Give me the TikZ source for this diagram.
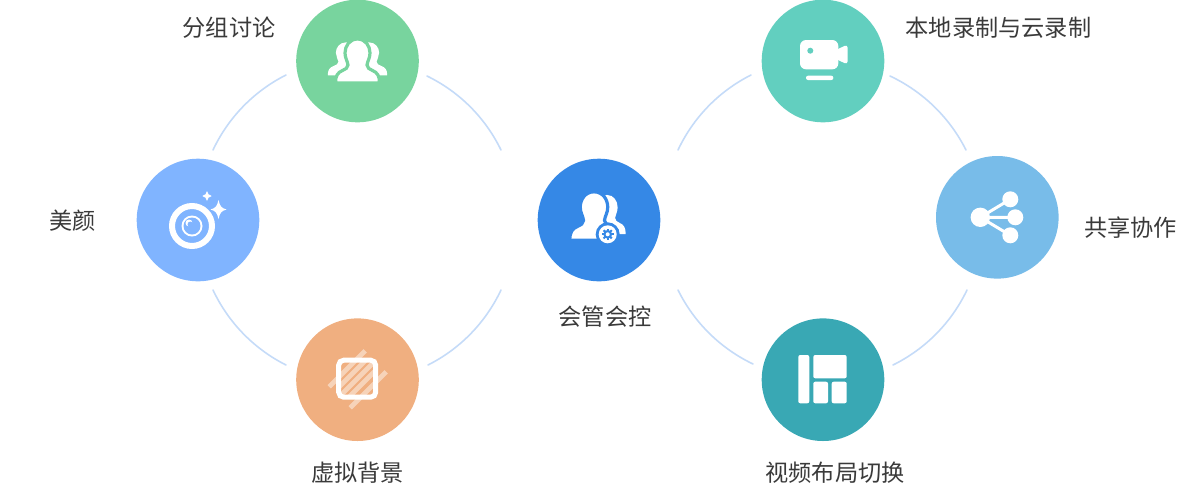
\documentclass[tikz,border=0pt]{standalone}
\usepackage{fontspec}
\setmainfont{Noto Sans CJK SC}
\definecolor{cGroup}{HTML}{78D49E}
\definecolor{cBeauty}{HTML}{80B4FF}
\definecolor{cVirtual}{HTML}{F0AF80}
\definecolor{cHost}{HTML}{3588E6}
\definecolor{cRecord}{HTML}{62CFBF}
\definecolor{cShare}{HTML}{78BCE9}
\definecolor{cLayout}{HTML}{39A8B4}
\definecolor{cRing}{HTML}{C5DBF8}
\definecolor{cText}{HTML}{3A3A3A}
\tikzset{
    hub/.style={circle,minimum size=61.3pt,inner sep=0pt,outer sep=0pt},
    caption/.style={text=cText,font=\fontsize{11.6pt}{13pt}\selectfont,inner sep=0pt},
    ring/.style={draw=cRing,line width=0.8pt,line cap=round,looseness=0.88},
    glyph/.style={fill=white,draw=none}
}
\def\Person{
    (0,-22) .. controls (8,-22) and (12.5,-15) .. (12.5,-8)
    .. controls (12.5,-3) and (10,0) .. (9.5,4)
    .. controls (9.5,7) and (12,8) .. (15,9.5)
    .. controls (20,11.5) and (22,15) .. (22,22)
    -- (-22,22)
    .. controls (-22,15) and (-20,11.5) .. (-15,9.5)
    .. controls (-12,8) and (-9.5,7) .. (-9.5,4)
    .. controls (-10,0) and (-12.5,-3) .. (-12.5,-8)
    .. controls (-12.5,-15) and (-8,-22) .. (0,-22) -- cycle
}
\begin{document}
\begin{tikzpicture}[x=0.5pt,y=-0.5pt]
    \useasboundingbox (0,0) rectangle (1200,489);

    \node[hub,fill=cGroup] (group) at (357.5,61) {};
    \node[hub,fill=cBeauty] (beauty) at (198,220) {};
    \node[hub,fill=cVirtual] (virtual) at (357.5,379.7) {};
    \node[hub,fill=cHost] (host) at (599,220) {};
    \node[hub,fill=cRecord] (record) at (823,61) {};
    \node[hub,fill=cShare] (share) at (997.3,217.3) {};
    \node[hub,fill=cLayout] (layout) at (823,379.7) {};

    \node[caption] (groupText) at (229,28) {分组讨论};
    \node[caption] (beautyText) at (72.5,221) {美颜};
    \node[caption] (virtualText) at (357.5,473) {虚拟背景};
    \node[caption] (hostText) at (605,317) {会管会控};
    \node[caption] (recordText) at (998.5,28) {本地录制与云录制};
    \node[caption] (shareText) at (1130.5,228) {共享协作};
    \node[caption] (layoutText) at (835,473) {视频布局切换};

    % ring ends
    \coordinate (a1) at (213,150);
    \coordinate (a2) at (286,75);
    \coordinate (a3) at (427,76);
    \coordinate (a4) at (501,150);
    \coordinate (a5) at (501,290);
    \coordinate (a6) at (428,365);
    \coordinate (a7) at (286,365);
    \coordinate (a8) at (213,290);
    \coordinate (b1) at (678,150);
    \coordinate (b2) at (751,75);
    \coordinate (b3) at (890,76);
    \coordinate (b4) at (966,150);
    \coordinate (b5) at (967,290);
    \coordinate (b6) at (893,365);
    \coordinate (b7) at (753,364);
    \coordinate (b8) at (678,290);

    \draw[ring] (a1) to[bend left=19] (a2);
    \draw[ring] (a3) to[bend left=19] (a4);
    \draw[ring] (a5) to[bend left=19] (a6);
    \draw[ring] (a7) to[bend left=19] (a8);
    \draw[ring] (b1) to[bend left=19] (b2);
    \draw[ring] (b3) to[bend left=19] (b4);
    \draw[ring] (b5) to[bend left=19] (b6);
    \draw[ring] (b7) to[bend left=19] (b8);

    % group icon
    \begin{scope}[shift={(357.5,61)}]
        \fill[glyph,shift={(-11,-2.25)},xscale=0.85,yscale=0.75] \Person;
        \fill[glyph,shift={(11,-2.25)},xscale=0.85,yscale=0.75] \Person;
        \filldraw[fill=white,draw=cGroup,line width=1.6pt] \Person;
    \end{scope}

    % beauty icon
    \begin{scope}[shift={(192,226)}]
        \draw[white,line width=3pt] (0,0) circle (20);
        \fill[glyph] (0,0) circle (10.5);
        \fill[cBeauty] (0,0) circle (8.5);
        \fill[glyph] (-3,-3) circle (3.5);
        \fill[cBeauty] (-1.5,-1.5) circle (3);
    \end{scope}
    \fill[glyph] (218.5,200) .. controls (220,206) and (221,208) .. (226.5,209.5)
        .. controls (221,211) and (220,213) .. (218.5,219)
        .. controls (217,213) and (216,211) .. (210.5,209.5)
        .. controls (216,208) and (217,206) .. (218.5,200) -- cycle;
    \fill[glyph] (207,191) .. controls (207.8,194) and (208.5,195) .. (211.7,196)
        .. controls (208.5,197) and (207.8,198) .. (207,201)
        .. controls (206.2,198) and (205.5,197) .. (202.3,196)
        .. controls (205.5,195) and (206.2,194) .. (207,191) -- cycle;

    % virtual background icon
    \begin{scope}[shift={(357.2,378.7)}]
        \draw[white,opacity=0.45,line width=2.4pt] (-28,8) -- (8,-28);
        \draw[white,opacity=0.45,line width=2.4pt] (-7,29) -- (29,-7);
        \begin{scope}
            \clip (-18.5,-18.5) rectangle (18.5,18.5);
            \foreach \k in {-10,0,10}
                \draw[white,opacity=0.45,line width=2.4pt] (\k-30,30) -- (\k+30,-30);
        \end{scope}
        \draw[white,line width=2.5pt,rounded corners=2.5pt] (-18.5,-18.5) rectangle (18.5,18.5);
    \end{scope}

    % host icon
    \begin{scope}[shift={(599,220)}]
        \fill[glyph,shift={(8,-5.5)},xscale=0.85,yscale=0.89] \Person;
        \filldraw[fill=white,draw=cHost,line width=1.6pt,shift={(-5,-4)},xscale=1.1,yscale=1.1] \Person;
        \fill[cHost] (8.7,14.3) circle (12);
        \fill[glyph] (8.7,14.3) circle (9);
        \begin{scope}[shift={(8.7,14.3)}]
            \foreach \a in {0,45,...,315}
                \fill[cHost,rotate=\a] (-1,-5.8) rectangle (1,0);
            \fill[cHost] (0,0) circle (4.4);
            \fill[glyph] (0,0) circle (2);
        \end{scope}
    \end{scope}

    % record icon
    \begin{scope}[shift={(823,61)}]
        \fill[glyph,rounded corners=3pt] (-23,-21) rectangle (15.3,8.3);
        \fill[glyph,rounded corners=1.5pt] (13,-11) -- (24.5,-16.5) -- (24.5,3.5) -- (13,-2) -- cycle;
        \fill[cRecord] (-12.7,-10.3) circle (3);
        \fill[glyph,rounded corners=1pt] (-17,14.7) rectangle (10.3,19);
    \end{scope}

    % share icon
    \begin{scope}[shift={(997.3,217.3)}]
        \draw[white,line width=1.5pt] (-17,0) -- (13,-18) (-17,0) -- (18,0) (-17,0) -- (13,18);
        \fill[glyph] (-17,0) circle (9.7);
        \fill[glyph] (13,-18) circle (8);
        \fill[glyph] (18,0) circle (8);
        \fill[glyph] (13,18) circle (8);
    \end{scope}

    % layout icon
    \begin{scope}[shift={(823,379.7)},rounded corners=1pt]
        \fill[glyph] (-24.7,-24.7) rectangle (-13.7,23.6);
        \fill[glyph] (-9.7,-24.7) rectangle (23.7,-1.4);
        \fill[glyph] (-9.7,2) rectangle (5,23.6);
        \fill[glyph] (8.7,2) rectangle (23.7,23.6);
    \end{scope}
\end{tikzpicture}
\end{document}
